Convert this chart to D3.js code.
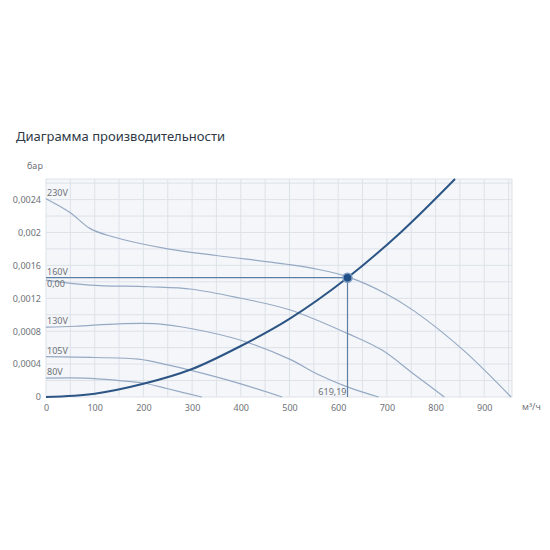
<!DOCTYPE html>
<html>
<head>
<meta charset="utf-8">
<script src="https://cdn.jsdelivr.net/npm/d3@7"></script>
<style>
  body { margin: 0; background: #fff; }
  svg { font-family: "Noto Sans", "Open Sans", sans-serif; }
</style>
</head>
<body>
<div id="chart"></div>
<script>
// fan curves: [flow m3/h, pressure bar]
var curve230 = [[0,0.00241],[50,0.00224],[90,0.00205],[130,0.00196],[250,0.00180],[350,0.00172],[500,0.00161],[560,0.00155],[620,0.00146],[700,0.00125],[755,0.00105],[857,0.00057],[955,0]];
var curve160 = [[0,0.00142],[90,0.00136],[210,0.00134],[300,0.00131],[400,0.00120],[500,0.00106],[620,0.00077],[690,0.00057],[755,0.00028],[818,0]];
var curve130 = [[0,0.00085],[60,0.00086],[150,0.00089],[230,0.00089],[300,0.00083],[400,0.00069],[500,0.00046],[560,0.00027],[620,0.00012],[683,0]];
var curve105 = [[0,0.00049],[100,0.00048],[190,0.00046],[250,0.00039],[300,0.00032],[400,0.00016],[485,0]];
var curve80 = [[0,0.00023],[80,0.00023],[150,0.0002],[200,0.00017],[250,0.0001],[320,0]];
var curveLabels = ['230V', '160V', '130V', '105V', '80V'];
var systemCurve = [[0,0],[100,0.00004],[200,0.00016],[300,0.00034],[400,0.00062],[500,0.00095],[619.19,0.00145],[730,0.00201],[840,0.00265]];
var workPoint = [619.19, 0.00145];
var xTicks = [0,100,200,300,400,500,600,700,800,900];
var yTicks = [0,0.0004,0.0008,0.0012,0.0016,0.002,0.0024];

var width = 550, height = 550;
var svg = d3.select('#chart').append('svg')
    .attr('width', width)
    .attr('height', height);

svg.append('text')
    .attr('x', 16).attr('y', 141)
    .attr('font-size', '13px')
    .style('fill', '#2e3a47')
    .text('Диаграмма производительности');

var x = d3.scaleLinear().domain([0, 957]).range([46, 512]);
var y = d3.scaleLinear().domain([0, 0.00265]).range([397, 179]);

// plot background
svg.append('rect')
    .attr('x', x(0)).attr('y', y(0.00265))
    .attr('width', x(957) - x(0))
    .attr('height', y(0) - y(0.00265))
    .style('fill', '#f4f6f9');

// grid every 50 / 0.0002
var gx = d3.range(0, 957, 50);
var gy = d3.range(0, 0.00266, 0.0002);
svg.selectAll('line.gx')
    .data(gx)
    .enter()
    .append('line')
    .attr('x1', function(d) { return x(d); })
    .attr('x2', function(d) { return x(d); })
    .attr('y1', y(0)).attr('y2', y(0.00265))
    .style('stroke', '#dde2e9').style('stroke-width', 1);
svg.selectAll('line.gy')
    .data(gy.concat([0.00265]))
    .enter()
    .append('line')
    .attr('x1', x(0)).attr('x2', x(957))
    .attr('y1', function(d) { return y(d); })
    .attr('y2', function(d) { return y(d); })
    .style('stroke', '#dde2e9').style('stroke-width', 1);
svg.append('line')
    .attr('x1', x(957)).attr('x2', x(957))
    .attr('y1', y(0)).attr('y2', y(0.00265))
    .style('stroke', '#dde2e9');

// axes
var fmt = function(d) { return String(d).replace('.', ','); };
var xAxis = svg.append('g')
    .attr('transform', 'translate(0,' + (y(0) + 4) + ')')
    .call(d3.axisBottom(x).tickValues(xTicks).tickSize(0).tickPadding(4));
var yAxis = svg.append('g')
    .attr('transform', 'translate(' + (x(0) - 5) + ',0)')
    .call(d3.axisLeft(y).tickValues(yTicks).tickSize(0).tickPadding(0).tickFormat(fmt));
[xAxis, yAxis].forEach(function(a) {
    a.select('.domain').remove();
    a.selectAll('text')
        .attr('font-size', '9px')
        .attr('font-family', '"Noto Sans", "Open Sans", sans-serif')
        .style('fill', '#6e7278');
});

svg.append('text')
    .attr('x', 27).attr('y', 169)
    .attr('font-size', '9px')
    .style('fill', '#6e7278')
    .text('бар');
svg.append('text')
    .attr('x', 522).attr('y', 410)
    .attr('font-size', '9px')
    .style('fill', '#6e7278')
    .text('м³/ч');

var line = d3.line()
    .x(function(d) { return x(d[0]); })
    .y(function(d) { return y(d[1]); })
    .curve(d3.curveCatmullRom.alpha(0.5));

var fanCurves = [curve230, curve160, curve130, curve105, curve80];
svg.selectAll('path.fan')
    .data(fanCurves)
    .enter()
    .append('path')
    .attr('d', line)
    .style('fill', 'none')
    .style('stroke', '#96a9c3')
    .style('stroke-width', 1.2);

svg.selectAll('text.fan')
    .data(fanCurves)
    .enter()
    .append('text')
    .attr('x', x(0) + 1)
    .attr('y', function(d, i) { return y(d[0][1]) - (i == 1 ? 5 : 3); })
    .attr('font-size', '9px')
    .style('fill', '#6e7278')
    .text(function(d, i) { return curveLabels[i]; });

// operating point guides
svg.append('line')
    .attr('x1', x(0)).attr('x2', x(workPoint[0]))
    .attr('y1', y(workPoint[1])).attr('y2', y(workPoint[1]))
    .style('stroke', '#5d7fa6').style('stroke-width', 1.2);
svg.append('line')
    .attr('x1', x(workPoint[0])).attr('x2', x(workPoint[0]))
    .attr('y1', y(workPoint[1])).attr('y2', y(0))
    .style('stroke', '#5d7fa6').style('stroke-width', 1.2);
svg.append('text')
    .attr('x', x(0) + 1)
    .attr('y', y(workPoint[1]) + 9)
    .attr('font-size', '9px')
    .style('fill', '#6e7278')
    .text('0,00');
svg.append('text')
    .attr('x', x(workPoint[0]) - 1)
    .attr('y', y(0) - 2)
    .attr('text-anchor', 'end')
    .attr('font-size', '9px')
    .style('fill', '#6e7278')
    .text(fmt(workPoint[0]));

// system curve
svg.append('path')
    .datum(systemCurve)
    .attr('d', line)
    .style('fill', 'none')
    .style('stroke', '#2c5585')
    .style('stroke-width', 2);

svg.append('circle')
    .attr('cx', x(workPoint[0])).attr('cy', y(workPoint[1]))
    .attr('r', 4.5)
    .style('fill', '#1f4f86')
    .style('stroke', '#7d9cc2')
    .style('stroke-width', 1.5);
</script>
</body>
</html>
